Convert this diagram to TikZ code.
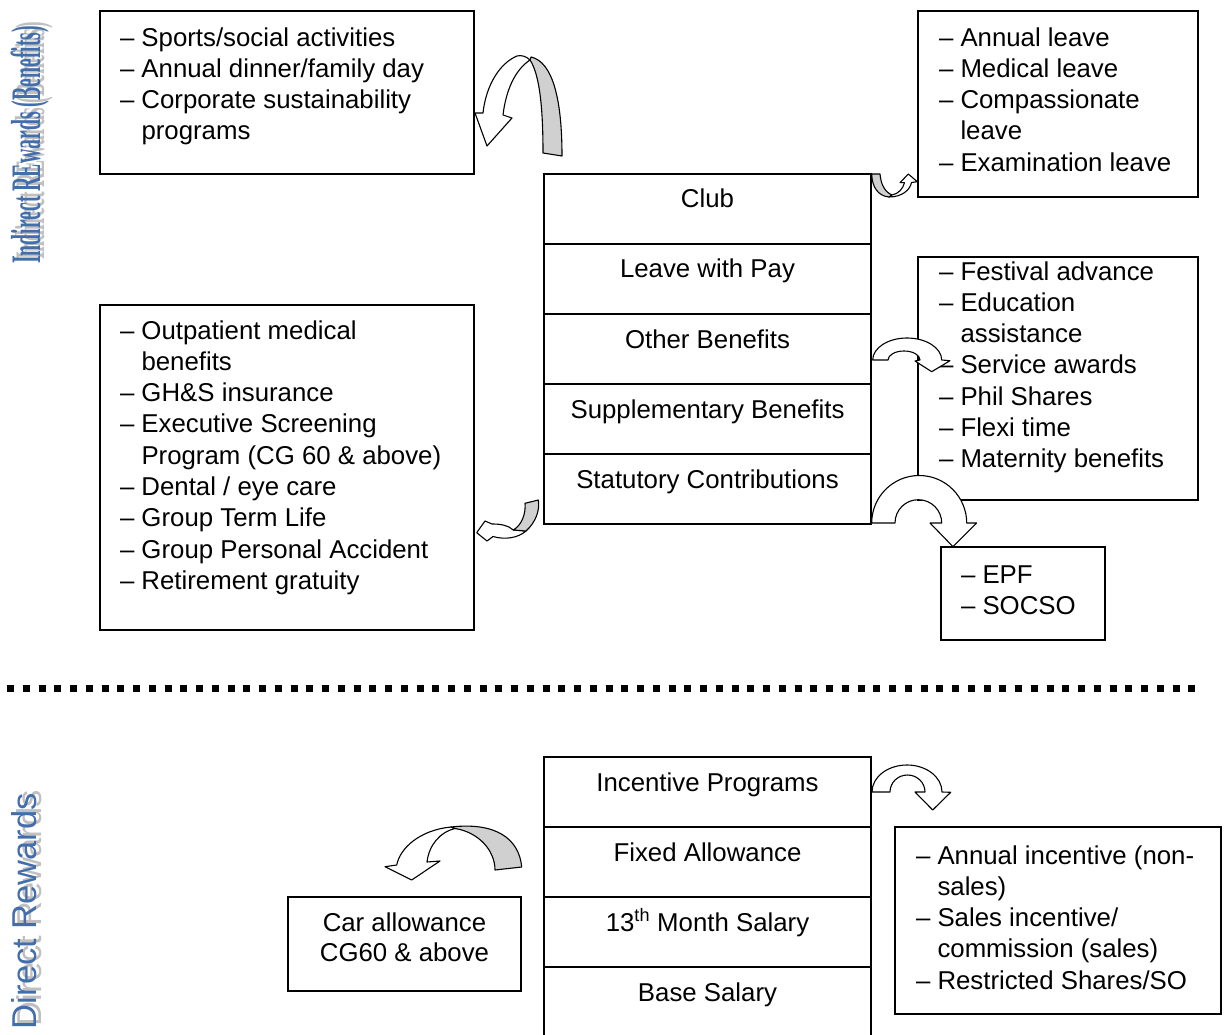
\documentclass[tikz,border=0pt]{standalone}
\usepackage{fontspec}
\usepackage{graphicx}
\setmainfont{Liberation Sans}
\newfontfamily\sideserif{Liberation Serif}
\definecolor{sideblue}{RGB}{66,110,172}
\definecolor{sideshade}{RGB}{192,192,192}
\definecolor{ribbonback}{RGB}{208,208,208}

% list bullets: a dash in a fixed-width slot, and a matching indent
\newcommand\dashitem{\strut\makebox[21.5pt][l]{–}}
\newcommand\contitem{\strut\hspace*{21.5pt}}

\begin{document}
\begin{tikzpicture}[x=1pt,y=-1pt,
  every node/.style={font=\fontsize{25.8}{31.3}\selectfont, inner sep=0pt, outer sep=0pt},
  panel/.style={draw, line width=1.3pt, anchor=north west},
  cell/.style={draw, line width=1.3pt, anchor=north west, minimum width=327pt, minimum height=70pt},
  listtext/.style={anchor=north west, align=left},
  celltext/.style={anchor=base},
  ribbon/.style={draw, line width=1.1pt, fill=white, line join=round},
  ribbonrear/.style={ribbon, fill=ribbonback},
  sidelabel/.style={rotate=90, anchor=base west, text=sideblue},
  sideshadow/.style={rotate=90, anchor=base west, text=sideshade}]

\clip (0,0) rectangle (1224,1035);
\fill[white] (0,0) rectangle (1224,1035);

% ---- side captions ----
\node[sideshadow] at (44,260) {\resizebox{238pt}{\height}{\sideserif\bfseries\fontsize{42}{42}\selectfont Indirect REwards (Benefits)}};
\node[sidelabel] (indirect) at (40,264) {\resizebox{238pt}{\height}{\sideserif\bfseries\fontsize{42}{42}\selectfont Indirect REwards (Benefits)}};
\node[sideshadow] at (41,1026) {\fontsize{34.5}{34.5}\selectfont Direct Rewards};
\node[sidelabel] (direct) at (36,1029) {\fontsize{34.5}{34.5}\selectfont Direct Rewards};

% ---- indirect rewards: central stack ----
\node[cell] (club)  at (544,174) {};
\node[cell] (leave) at (544,244) {};
\node[cell] (other) at (544,314) {};
\node[cell] (supp)  at (544,384) {};
\node[cell] (stat)  at (544,454) {};
\node[celltext] at ([yshift=-34pt]club.north)  {Club};
\node[celltext] at ([yshift=-34pt]leave.north) {Leave with Pay};
\node[celltext] at ([yshift=-34pt]other.north) {Other Benefits};
\node[celltext] at ([yshift=-34pt]supp.north)  {Supplementary Benefits};
\node[celltext] at ([yshift=-34pt]stat.north)  {Statutory Contributions};

% ---- indirect rewards: detail panels ----
\node[panel, minimum width=374pt, minimum height=163pt] (social) at (100,11) {};
\node[listtext] (socialtxt) at (120,24.1) {\dashitem Sports/social activities\\
  \dashitem Annual dinner/family day\\
  \dashitem Corporate sustainability\\
  \contitem programs};

\node[panel, minimum width=280pt, minimum height=186pt] (leaves) at (918,11) {};
\node[listtext] (leavestxt) at (939,24.1) {\dashitem Annual leave\\
  \dashitem Medical leave\\
  \dashitem Compassionate\\
  \contitem leave\\
  \dashitem Examination leave};

\node[panel, minimum width=374pt, minimum height=325pt] (medical) at (100,305) {};
\node[listtext] (medicaltxt) at (120,317.1) {\dashitem Outpatient medical\\
  \contitem benefits\\
  \dashitem GH\&S insurance\\
  \dashitem Executive Screening\\
  \contitem Program (CG 60 \& above)\\
  \dashitem Dental / eye care\\
  \dashitem Group Term Life\\
  \dashitem Group Personal Accident\\
  \dashitem Retirement gratuity};

\node[panel, minimum width=280pt, minimum height=243pt] (others) at (918,257) {};
\node[listtext] (otherstxt) at (939,258.1) {\dashitem Festival advance\\
  \dashitem Education\\
  \contitem assistance\\
  \dashitem Service awards\\
  \dashitem Phil Shares\\
  \dashitem Flexi time\\
  \dashitem Maternity benefits};

\node[panel, minimum width=164pt, minimum height=93pt] (epf) at (941,547) {};
\node[listtext] (epftxt) at (961,561.1) {\dashitem EPF\\
  \dashitem SOCSO};

% ---- separator between the two reward groups ----
\draw[line width=7pt, dash pattern=on 7pt off 8.75pt] (7,688) -- (1202,688);

% ---- direct rewards: central stack ----
\node[cell] (incent) at (544,757) {};
\node[cell] (fixed)  at (544,827) {};
\node[cell] (month)  at (544,897) {};
\node[cell] (base)   at (544,967) {};
\node[celltext] at ([yshift=-34pt]incent.north) {Incentive Programs};
\node[celltext] at ([yshift=-34pt]fixed.north)  {Fixed Allowance};
\node[celltext] at ([yshift=-34pt]month.north)  {13\textsuperscript{th} Month Salary};
\node[celltext] at ([yshift=-34pt]base.north)   {Base Salary};

% ---- direct rewards: detail panels ----
\node[panel, minimum width=233pt, minimum height=94pt] (car) at (288,897) {};
\node[celltext] at ([yshift=-34pt]car.north) {Car allowance};
\node[celltext] at ([yshift=-64pt]car.north) {CG60 \& above};

\node[panel, minimum width=326pt, minimum height=187pt] (bonus) at (895,827) {};
\node[listtext] (bonustxt) at (916,842.1) {\dashitem Annual incentive (non-\\
  \contitem sales)\\
  \dashitem Sales incentive/\\
  \contitem commission (sales)\\
  \dashitem Restricted Shares/SO};

% ---- curved block arrows ----
% social activities
\draw[ribbon] (517,56) .. controls (500,63) and (486,85) .. (483,113) -- (475,113) -- (487,146)
  -- (512,118) -- (503,115) .. controls (506,90) and (515,70) .. (530,60)
  .. controls (526,56) and (521,55) .. (517,56) -- cycle;
\draw[ribbonrear] (530,60) .. controls (540,75) and (543,110) .. (543,153) -- (562,156)
  .. controls (562,100) and (553,62) .. (531,57) -- cycle;

% leave with pay
\draw[ribbonrear] (871.7,174) .. controls (872,187) and (878,196) .. (889,197) -- (892,195)
  .. controls (885,192) and (881,185) .. (880,174) -- cycle;
\draw[ribbon] (889,197) .. controls (902,197) and (910,190) .. (911.5,182.5) -- (917.3,181.7)
  -- (908.3,174) -- (900,182.7) -- (904.5,182.7) .. controls (903,189) and (898,194) .. (892,195) -- cycle;

% other benefits
\draw[ribbon] (872.7,360) .. controls (872.7,347.9) and (888,338) .. (907,338)
  .. controls (926,338) and (941.7,347.9) .. (941.7,360) -- (950,360.7) -- (931.7,371.7)
  -- (915,361) -- (920,360) .. controls (920,355) and (912.8,351) .. (904,351)
  .. controls (895.2,351) and (888,355) .. (888,360) -- cycle;

% statutory contributions
\draw[ribbon] (871.7,523) .. controls (871.7,496.8) and (893,475.5) .. (919.2,475.5)
  .. controls (945.4,475.5) and (966.7,496.8) .. (966.7,523) -- (976.7,523) -- (953,546.7)
  -- (930,523) -- (941.7,523) .. controls (941.7,510.1) and (931.2,499.7) .. (918.3,499.7)
  .. controls (905.4,499.7) and (895,510.1) .. (895,523) -- cycle;

% medical benefits
\draw[ribbon] (513.3,530) .. controls (508,525) and (500,524) .. (492,524) -- (485,521)
  -- (476.7,532.7) -- (487,541) -- (493,536.5) .. controls (505,540) and (518,538) .. (526,531) -- cycle;
\draw[ribbonrear] (525,503.3) .. controls (526,513) and (522,525) .. (513.3,530) -- (526,531)
  .. controls (536,522) and (540,510) .. (538.3,500) -- cycle;

% car allowance
\draw[ribbon] (451,827) .. controls (420,830) and (400,848) .. (396.7,865) -- (385,866.7)
  -- (411.7,880) -- (440,861) -- (427,862) .. controls (429,845) and (440,832) .. (455,828.5) -- cycle;
\draw[ribbonrear] (455,828.5) .. controls (478,832) and (495,850) .. (495,870) -- (521.7,867)
  .. controls (519,838) and (495,822) .. (451,827) -- cycle;

% incentive programs
\draw[ribbon] (872,792) .. controls (872,777) and (887.7,765) .. (907,765)
  .. controls (926.3,765) and (942,777) .. (942,792) -- (950.7,792.3) -- (932.7,810)
  -- (915,792) -- (925,792) .. controls (925,782.6) and (917.2,775) .. (907.5,775)
  .. controls (897.8,775) and (890,782.6) .. (890,792) -- cycle;

\end{tikzpicture}
\end{document}
